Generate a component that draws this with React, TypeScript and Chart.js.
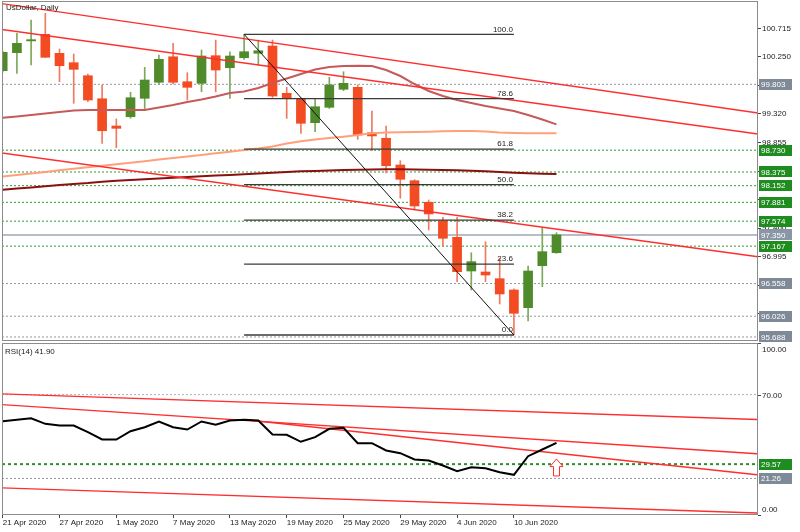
import React, { useEffect, useRef } from "react";
import { Chart, registerables } from "chart.js";

Chart.register(...registerables);

// ---------------- data ----------------
const SYMBOL_TITLE = "UsDollar, Daily";
const DATE_LABELS = ["21 Apr 2020", "27 Apr 2020", "1 May 2020", "7 May 2020", "13 May 2020", "19 May 2020", "25 May 2020", "29 May 2020", "4 Jun 2020", "10 Jun 2020"];
const DATE_STEP = 4;

const OPEN = [100.025, 100.318, 100.51, 100.617, 100.308, 100.155, 99.943, 99.568, 99.124, 99.275, 99.575, 99.836, 100.252, 99.845, 99.819, 100.269, 100.073, 100.236, 100.308, 100.427, 99.656, 99.564, 99.178, 99.428, 99.722, 99.754, 99.015, 98.924, 98.489, 98.233, 97.881, 97.582, 97.311, 96.762, 96.746, 96.637, 96.453, 96.165, 96.849, 97.06];
const HIGH = [100.34, 100.634, 100.85, 100.96, 100.378, 100.296, 99.97, 99.792, 99.238, 99.673, 100.08, 100.28, 100.471, 99.992, 100.362, 100.524, 100.334, 100.617, 100.524, 100.524, 99.754, 99.58, 99.559, 99.917, 100.008, 99.792, 99.368, 99.124, 98.559, 98.25, 97.919, 97.637, 97.637, 97.06, 97.239, 96.969, 96.47, 96.844, 97.474, 97.386];
const LOW = [100.0, 99.982, 100.117, 100.24, 99.845, 99.494, 99.52, 98.842, 98.77, 99.25, 99.384, 99.8, 99.808, 99.547, 99.682, 99.682, 99.575, 100.21, 100.117, 99.591, 99.249, 99.005, 99.031, 99.41, 99.7, 98.907, 98.722, 98.358, 97.946, 97.756, 97.43, 97.169, 96.588, 96.453, 96.588, 96.225, 95.72, 95.948, 96.507, 97.05];
const CLOSE = [100.324, 100.471, 100.53, 100.243, 100.106, 100.047, 99.547, 99.047, 99.086, 99.585, 99.873, 100.21, 99.836, 99.754, 100.264, 100.036, 100.264, 100.334, 100.35, 99.612, 99.568, 99.168, 99.438, 99.792, 99.819, 98.977, 98.962, 98.477, 98.256, 97.821, 97.691, 97.295, 96.751, 96.914, 96.697, 96.388, 96.073, 96.762, 97.077, 97.35];

const MA_FAST = [99.259, 99.279, 99.303, 99.327, 99.352, 99.376, 99.384, 99.384, 99.384, 99.384, 99.384, 99.425, 99.466, 99.515, 99.555, 99.604, 99.661, 99.686, 99.743, 99.824, 99.897, 99.971, 100.044, 100.085, 100.101, 100.106, 100.101, 100.036, 99.938, 99.808, 99.694, 99.612, 99.547, 99.498, 99.45, 99.409, 99.368, 99.303, 99.23, 99.151];
const MA_MID = [98.303, 98.327, 98.352, 98.376, 98.402, 98.427, 98.451, 98.476, 98.502, 98.526, 98.551, 98.577, 98.601, 98.627, 98.652, 98.679, 98.705, 98.733, 98.757, 98.79, 98.839, 98.876, 98.904, 98.928, 98.95, 98.977, 99.005, 99.018, 99.023, 99.026, 99.031, 99.037, 99.042, 99.042, 99.034, 99.018, 99.01, 99.005, 99.005, 99.005];
const MA_SLOW = [98.085, 98.104, 98.124, 98.143, 98.163, 98.179, 98.195, 98.217, 98.231, 98.244, 98.256, 98.267, 98.28, 98.293, 98.305, 98.316, 98.326, 98.337, 98.35, 98.362, 98.375, 98.386, 98.391, 98.399, 98.407, 98.41, 98.415, 98.419, 98.419, 98.415, 98.412, 98.407, 98.402, 98.396, 98.386, 98.375, 98.363, 98.353, 98.347, 98.342];

const RSI_PERIOD = 14;
const RSI = [54.53, 55.35, 56.28, 53.02, 52.03, 52.03, 48.14, 43.9, 43.9, 48.72, 51.05, 54.36, 51.05, 49.71, 54.36, 52.44, 54.94, 55.35, 54.94, 46.8, 46.63, 42.56, 45.23, 50.12, 50.7, 41.74, 41.74, 37.5, 35.93, 32.27, 31.69, 28.78, 25.47, 27.79, 27.21, 24.88, 23.37, 34.19, 38.08, 41.9];

const PRICE_TICKS = [96.065, 96.53, 96.995, 97.46, 97.925, 98.39, 98.855, 99.32, 99.785, 100.25, 100.715];
const GRAY_LEVELS = [99.803, 96.558, 96.026, 95.688];
const GREEN_LEVELS = [98.73, 98.375, 98.152, 97.881, 97.574, 97.167];
const BID = 97.35;

const FIB_LEVELS = [0, 23.6, 38.2, 50, 61.8, 78.6, 100];
const FIB_LOW = 95.72;
const FIB_HIGH = 100.617;
const FIB_START = 17;
const FIB_END = 36;

// [x0, y0, x1, y1]
const PRICE_TRENDLINES = [
  [-0.19, 101.122, 53.19, 99.336],
  [-0.19, 100.699, 53.19, 98.994],
  [-0.19, 98.689, 53.19, 96.995],
];
const RSI_TRENDLINES = [
  [-0.19, 70.47, 53.12, 55.5],
  [-0.19, 64.24, 53.12, 35.58],
  [17.09, 55.35, 53.12, 23.37],
  [-0.19, 15.81, 53.12, 1.16],
];
const RSI_AXIS_TICKS = [100, 70, 0];
const RSI_GRAY_LEVELS = [70, 21.26];
const RSI_GREEN_LEVELS = [29.57];
const ARROW = { x: 39, top: 32.6, bottom: 22.7 };

const X_MIN = -0.05;
const X_MAX = 53.19;
const PRICE_MIN = 95.622;
const PRICE_MAX = 101.16;

// ---------------- styles ----------------
const FONT = '"Liberation Sans", Arial, sans-serif';
const TXT = "#222222";
const RED = "#f34b22";
const RED_WICK = "#f07a60";
const GREEN = "#4f8b2a";
const GREEN_WICK = "#7ea75e";
const TREND = "#ff2e2e";
const BOX_GRAY = "#7f8a98";
const BOX_GREEN = "#1f8c1f";
const AXIS_W = 42;

const seg = (x0: number, y0: number, x1: number, y1: number, color: string, width: number, dash: number[], order: number) => ({
  type: "line" as const,
  data: [{ x: x0, y: y0 }, { x: x1, y: y1 }],
  borderColor: color,
  borderWidth: width,
  borderDash: dash,
  pointRadius: 0,
  fill: false,
  tension: 0,
  order,
});

const series = (vals: number[], color: string, width: number, order: number) => ({
  type: "line" as const,
  data: vals.map((v, i) => ({ x: i, y: v })),
  borderColor: color,
  borderWidth: width,
  pointRadius: 0,
  fill: false,
  tension: 0,
  order,
});

const fibPrice = (lvl: number) => FIB_LOW + ((FIB_HIGH - FIB_LOW) * lvl) / 100;

function drawBox(ctx: CanvasRenderingContext2D, x: number, yc: number, text: string, color: string) {
  ctx.fillStyle = color;
  ctx.fillRect(x, Math.round(yc - 5.5), 33, 11);
  ctx.fillStyle = "#ffffff";
  ctx.font = `8px ${FONT}`;
  ctx.textAlign = "left";
  ctx.textBaseline = "middle";
  ctx.fillText(text, x + 2, yc + 0.5);
}

function frame(chart: any) {
  const { ctx, chartArea: a } = chart;
  ctx.save();
  ctx.strokeStyle = "#8c8c8c";
  ctx.lineWidth = 1;
  ctx.strokeRect(a.left + 0.5, a.top + 0.5, a.right - a.left - 1, a.bottom - a.top - 1);
  ctx.restore();
}

const mainDecor = {
  id: "mainDecor",
  afterDraw(chart: any) {
    const { ctx, chartArea: a, scales } = chart;
    const xs = scales.x;
    const ys = scales.y;
    frame(chart);
    ctx.save();
    ctx.font = `8px ${FONT}`;
    ctx.fillStyle = TXT;
    ctx.textAlign = "left";
    ctx.textBaseline = "middle";
    ctx.fillText(SYMBOL_TITLE, a.left + 4, a.top + 7);
    // fib labels
    ctx.textAlign = "right";
    ctx.textBaseline = "bottom";
    const fx = xs.getPixelForValue(FIB_END) - 1;
    FIB_LEVELS.forEach((l) => {
      ctx.fillText(l.toFixed(1), fx, ys.getPixelForValue(fibPrice(l)) - 1);
    });
    // axis boxes
    const bx = a.right + 1;
    GRAY_LEVELS.forEach((v) => drawBox(ctx, bx, ys.getPixelForValue(v), v.toFixed(3), BOX_GRAY));
    GREEN_LEVELS.forEach((v) => drawBox(ctx, bx, ys.getPixelForValue(v), v.toFixed(3), BOX_GREEN));
    drawBox(ctx, bx, ys.getPixelForValue(BID), BID.toFixed(3), "#8a96a5");
    ctx.restore();
  },
};

const rsiDecor = {
  id: "rsiDecor",
  afterDraw(chart: any) {
    const { ctx, chartArea: a, scales } = chart;
    const xs = scales.x;
    const ys = scales.y;
    frame(chart);
    ctx.save();
    ctx.font = `8px ${FONT}`;
    ctx.fillStyle = TXT;
    ctx.textAlign = "left";
    ctx.textBaseline = "middle";
    ctx.fillText(`RSI(${RSI_PERIOD}) ${RSI[RSI.length - 1].toFixed(2)}`, a.left + 3, a.top + 9);
    // axis ticks and labels
    ctx.strokeStyle = "#444";
    ctx.lineWidth = 1;
    RSI_AXIS_TICKS.forEach((v) => {
      const py = Math.round(ys.getPixelForValue(v)) + 0.5;
      ctx.beginPath();
      ctx.moveTo(a.right, py);
      ctx.lineTo(a.right + 3, py);
      ctx.stroke();
      let ly = py;
      if (v >= 100) ly = py + 6;
      if (v <= 0) ly = py - 6;
      ctx.fillStyle = TXT;
      ctx.fillText(v.toFixed(2), a.right + 4, ly);
    });
    const bx = a.right + 1;
    RSI_GREEN_LEVELS.forEach((v) => drawBox(ctx, bx, ys.getPixelForValue(v), v.toFixed(2), BOX_GREEN));
    RSI_GRAY_LEVELS.filter((v) => v < 50).forEach((v) => drawBox(ctx, bx, ys.getPixelForValue(v), v.toFixed(2), BOX_GRAY));
    // arrow
    const ax = xs.getPixelForValue(ARROW.x);
    const at = ys.getPixelForValue(ARROW.top);
    const ab = ys.getPixelForValue(ARROW.bottom);
    const hh = (ab - at) * 0.45;
    ctx.beginPath();
    ctx.moveTo(ax, at);
    ctx.lineTo(ax + 6.5, at + hh);
    ctx.lineTo(ax + 3, at + hh);
    ctx.lineTo(ax + 3, ab);
    ctx.lineTo(ax - 3, ab);
    ctx.lineTo(ax - 3, at + hh);
    ctx.lineTo(ax - 6.5, at + hh);
    ctx.closePath();
    ctx.fillStyle = "#ffffff";
    ctx.fill();
    ctx.strokeStyle = TREND;
    ctx.lineWidth = 1;
    ctx.stroke();
    ctx.restore();
  },
};

function mainConfig(): any {
  const bull = OPEN.map((o, i) => CLOSE[i] >= o);
  const datasets: any[] = [];
  GRAY_LEVELS.forEach((v) => datasets.push(seg(X_MIN, v, X_MAX, v, "#8f99a5", 1, [2, 2], 30)));
  GREEN_LEVELS.forEach((v) => datasets.push(seg(X_MIN, v, X_MAX, v, "#2f9a2f", 1, [2, 2], 30)));
  datasets.push(seg(X_MIN, BID, X_MAX, BID, "#b5bec7", 2, [], 29));
  datasets.push({
    type: "bar",
    data: OPEN.map((_, i) => ({ x: i, y: [LOW[i], HIGH[i]] })),
    backgroundColor: bull.map((b) => (b ? GREEN_WICK : RED_WICK)),
    barThickness: 1,
    grouped: false,
    borderWidth: 0,
    order: 20,
  });
  datasets.push({
    type: "bar",
    data: OPEN.map((o, i) => ({ x: i, y: [o, CLOSE[i]] })),
    backgroundColor: bull.map((b) => (b ? GREEN : RED)),
    barThickness: 9,
    grouped: false,
    borderWidth: 0,
    order: 19,
  });
  datasets.push(series(MA_SLOW, "#8b1010", 2, 8));
  datasets.push(series(MA_MID, "#ffa07a", 2, 8));
  datasets.push(series(MA_FAST, "#c65a5a", 2, 8));
  PRICE_TRENDLINES.forEach((t) => datasets.push(seg(t[0], t[1], t[2], t[3], TREND, 1.4, [], 6)));
  FIB_LEVELS.forEach((l) => datasets.push(seg(FIB_START, fibPrice(l), FIB_END, fibPrice(l), "#3a3a3a", 1.3, [], 4)));
  datasets.push(seg(FIB_START, FIB_HIGH, FIB_END, FIB_LOW, "#111111", 1, [], 3));

  return {
    type: "bar",
    data: { datasets },
    options: {
      animation: false,
      responsive: false,
      devicePixelRatio: 1,
      layout: { padding: { left: 2, top: 1, bottom: 1, right: 0 } },
      plugins: { legend: { display: false }, tooltip: { enabled: false } },
      scales: {
        x: { type: "linear", min: X_MIN, max: X_MAX, display: false, offset: false, grid: { offset: false } },
        y: {
          position: "right",
          min: PRICE_MIN,
          max: PRICE_MAX,
          afterBuildTicks: (s: any) => {
            s.ticks = PRICE_TICKS.map((v) => ({ value: v }));
          },
          afterFit: (s: any) => {
            s.width = AXIS_W;
            s.paddingTop = 0;
            s.paddingBottom = 0;
          },
          ticks: {
            autoSkip: false,
            padding: 1,
            color: TXT,
            font: { family: FONT, size: 8 },
            callback: (v: any) => Number(v).toFixed(3),
          },
          grid: { drawOnChartArea: false, drawTicks: true, tickLength: 3, color: "#444" },
          border: { display: false },
        },
      },
    },
    plugins: [mainDecor],
  };
}

function rsiConfig(): any {
  const datasets: any[] = [];
  datasets.push(seg(X_MIN, RSI_GRAY_LEVELS[0], X_MAX, RSI_GRAY_LEVELS[0], "#b0b0b0", 1, [2, 2], 30));
  datasets.push(seg(X_MIN, RSI_GRAY_LEVELS[1], X_MAX, RSI_GRAY_LEVELS[1], "#8f99a5", 1, [2, 2], 30));
  RSI_GREEN_LEVELS.forEach((v) => datasets.push(seg(X_MIN, v, X_MAX, v, "#2f8f2f", 2, [3, 3], 30)));
  RSI_TRENDLINES.forEach((t) => datasets.push(seg(t[0], t[1], t[2], t[3], TREND, 1.4, [], 6)));
  datasets.push(series(RSI, "#000000", 2, 2));
  return {
    type: "line",
    data: { datasets },
    options: {
      animation: false,
      responsive: false,
      devicePixelRatio: 1,
      layout: { padding: { left: 2, top: 1, bottom: 0, right: 0 } },
      plugins: { legend: { display: false }, tooltip: { enabled: false } },
      scales: {
        x: {
          type: "linear",
          min: X_MIN,
          max: X_MAX,
          offset: false,
          afterBuildTicks: (s: any) => {
            s.ticks = DATE_LABELS.map((_, k) => ({ value: k * DATE_STEP }));
          },
          afterFit: (s: any) => {
            s.height = 17;
            s.paddingLeft = 0;
            s.paddingRight = 0;
          },
          ticks: {
            autoSkip: false,
            maxRotation: 0,
            align: "start",
            padding: 0,
            color: TXT,
            font: { family: FONT, size: 8 },
            callback: (_v: any, idx: number) => DATE_LABELS[idx],
          },
          grid: { drawOnChartArea: false, drawTicks: true, tickLength: 3, color: "#444", offset: false },
          border: { display: false },
        },
        y: {
          position: "right",
          min: 0,
          max: 100,
          afterFit: (s: any) => {
            s.width = AXIS_W;
            s.paddingTop = 0;
            s.paddingBottom = 0;
          },
          ticks: { display: false },
          grid: { display: false },
          border: { display: false },
        },
      },
    },
    plugins: [rsiDecor],
  };
}

export default function App() {
  const mainRef = useRef<HTMLCanvasElement>(null);
  const rsiRef = useRef<HTMLCanvasElement>(null);
  useEffect(() => {
    document.body.style.margin = "0";
    const c1 = new Chart(mainRef.current as HTMLCanvasElement, mainConfig());
    const c2 = new Chart(rsiRef.current as HTMLCanvasElement, rsiConfig());
    return () => {
      c1.destroy();
      c2.destroy();
    };
  }, []);
  return (
    <div style={{ width: 800, height: 532, background: "#ffffff" }}>
      <canvas ref={mainRef} width={800} height={342} style={{ display: "block", width: 800, height: 342 }} />
      <canvas ref={rsiRef} width={800} height={190} style={{ display: "block", width: 800, height: 190 }} />
    </div>
  );
}
